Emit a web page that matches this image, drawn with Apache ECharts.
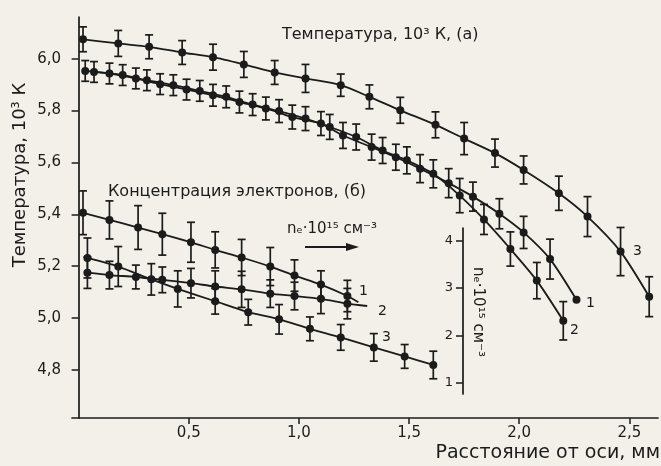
<!DOCTYPE html>
<html>
<head>
<meta charset="utf-8">
<script src="https://cdn.jsdelivr.net/npm/echarts@6/dist/echarts.min.js"></script>
<style>
  html, body { margin: 0; padding: 0; background: #f2f0e9; }
  #grafico { width: 661px; height: 466px; }
</style>
</head>
<body>
<div id="grafico"></div>
<script>
// Температура (а), 10^3 K
const tempX1 = [0.03, 0.14, 0.26, 0.37, 0.49, 0.61, 0.73, 0.85, 0.97, 1.10, 1.20, 1.33, 1.44, 1.55, 1.68, 1.79, 1.91, 2.02, 2.14, 2.26];
const tempY1 = [5.953, 5.943, 5.924, 5.902, 5.881, 5.859, 5.833, 5.808, 5.775, 5.750, 5.704, 5.659, 5.620, 5.576, 5.520, 5.468, 5.402, 5.330, 5.227, 5.070];
const tempErr1 = [0.04, 0.04, 0.04, 0.04, 0.04, 0.042, 0.042, 0.044, 0.046, 0.046, 0.05, 0.05, 0.05, 0.054, 0.056, 0.056, 0.058, 0.062, 0.077, 0];

const tempX2 = [0.07, 0.20, 0.31, 0.43, 0.55, 0.67, 0.79, 0.91, 1.03, 1.14, 1.26, 1.38, 1.49, 1.61, 1.73, 1.84, 1.96, 2.08, 2.20];
const tempY2 = [5.949, 5.937, 5.917, 5.898, 5.876, 5.853, 5.823, 5.798, 5.769, 5.737, 5.698, 5.646, 5.608, 5.556, 5.472, 5.380, 5.266, 5.144, 4.989];
const tempErr2 = [0.04, 0.04, 0.04, 0.04, 0.04, 0.042, 0.042, 0.044, 0.046, 0.048, 0.05, 0.05, 0.052, 0.054, 0.066, 0.058, 0.066, 0.07, 0.074];

const tempX3 = [0.02, 0.18, 0.32, 0.47, 0.61, 0.75, 0.89, 1.03, 1.19, 1.32, 1.46, 1.62, 1.75, 1.89, 2.02, 2.18, 2.31, 2.46, 2.59];
const tempY3 = [6.075, 6.059, 6.046, 6.024, 6.006, 5.978, 5.947, 5.924, 5.898, 5.853, 5.801, 5.745, 5.692, 5.636, 5.571, 5.481, 5.391, 5.256, 5.082];
const tempErr3 = [0.048, 0.05, 0.046, 0.046, 0.05, 0.05, 0.046, 0.054, 0.043, 0.046, 0.05, 0.05, 0.062, 0.054, 0.054, 0.066, 0.077, 0.093, 0.077];

// Концентрация электронов (б), 10^15 см^-3
const neX1 = [0.02, 0.14, 0.27, 0.38, 0.51, 0.62, 0.74, 0.87, 0.98, 1.10, 1.22];
const neY1 = [4.58, 4.43, 4.27, 4.13, 3.96, 3.80, 3.64, 3.45, 3.26, 3.07, 2.83];
const neErr1 = [0.46, 0.40, 0.46, 0.44, 0.42, 0.38, 0.38, 0.40, 0.33, 0.29, 0.33];
const neTail1 = [1.27, 2.70];

const neX2 = [0.04, 0.14, 0.26, 0.38, 0.51, 0.62, 0.74, 0.87, 0.98, 1.10, 1.22];
const neY2 = [3.32, 3.27, 3.23, 3.17, 3.10, 3.03, 2.97, 2.88, 2.83, 2.77, 2.67];
const neErr2 = [0.33, 0.29, 0.25, 0.27, 0.31, 0.33, 0.38, 0.29, 0.29, 0.31, 0.32];
const neTail2 = [1.31, 2.62];

const neX3 = [0.04, 0.18, 0.33, 0.45, 0.62, 0.77, 0.91, 1.05, 1.19, 1.34, 1.48, 1.61];
const neY3 = [3.63, 3.45, 3.18, 2.98, 2.72, 2.49, 2.34, 2.14, 1.96, 1.75, 1.56, 1.38];
const neErr3 = [0.42, 0.42, 0.33, 0.38, 0.27, 0.27, 0.31, 0.25, 0.27, 0.29, 0.25, 0.29];

// Подписи осей
const xTicks = [0.5, 1.0, 1.5, 2.0, 2.5];
const tempTicks = [4.8, 5.0, 5.2, 5.4, 5.6, 5.8, 6.0];
const neTicks = [1, 2, 3, 4];

const ink = "#1b1b1b";
const fonte = "DejaVu Sans";
const grafico = echarts.init(document.getElementById("grafico"));

const virgula = (v) => v.toFixed(1).replace(".", ",");

function serieLinha(xs, ys, tail, eixo) {
  const data = xs.map((x, i) => [x, ys[i]]);
  if (tail) data.push({ value: tail, symbol: "none" });
  return {
    type: "line",
    xAxisIndex: eixo,
    yAxisIndex: eixo,
    data,
    smooth: 0.25,
    symbol: "circle",
    symbolSize: 8,
    clip: false,
    z: 3,
    itemStyle: { color: ink },
    lineStyle: { color: ink, width: 1.8 },
  };
}

// barras de erro
function serieErro(xs, ys, errs, eixo) {
  return {
    type: "custom",
    xAxisIndex: eixo,
    yAxisIndex: eixo,
    clip: false,
    silent: true,
    z: 2,
    data: xs.map((x, i) => [x, ys[i], errs[i]]),
    encode: { x: 0, y: 1 },
    renderItem: (params, api) => {
      const e = api.value(2);
      if (!e) return null;
      const x = api.value(0), y = api.value(1);
      const a = api.coord([x, y + e]);
      const b = api.coord([x, y - e]);
      const w = 4;
      const st = { stroke: ink, lineWidth: 1.7 };
      return {
        type: "group",
        children: [
          { type: "line", shape: { x1: a[0], y1: a[1], x2: b[0], y2: b[1] }, style: st },
          { type: "line", shape: { x1: a[0] - w, y1: a[1], x2: a[0] + w, y2: a[1] }, style: st },
          { type: "line", shape: { x1: b[0] - w, y1: b[1], x2: b[0] + w, y2: b[1] }, style: st },
        ],
      };
    },
  };
}

const linhaEixo = { show: true, lineStyle: { color: ink, width: 1.7 } };
const txt = (size) => ({ fontFamily: fonte, fontSize: size, color: ink });

function rotulo(x, y, text, size, extra) {
  return Object.assign(
    { type: "text", x, y, style: { text, font: size + "px " + fonte, fill: ink, verticalAlign: "middle" } },
    extra || {}
  );
}

grafico.setOption({
  animation: false,
  backgroundColor: "#f2f0e9",
  grid: [
    { left: 72, right: 3, top: 17, bottom: 48 },
    { left: 72, right: 3, top: 228, bottom: 72 },
  ],
  xAxis: [
    {
      type: "value", gridIndex: 0, min: -0.03, max: 2.63,
      axisLine: linhaEixo,
      axisTick: { show: true, length: 6, customValues: xTicks, lineStyle: { color: ink, width: 1.5 } },
      axisLabel: Object.assign({ customValues: xTicks, formatter: virgula, margin: 8 }, txt(15)),
      splitLine: { show: false },
    },
    { type: "value", gridIndex: 1, min: -0.03, max: 2.63, show: false },
  ],
  yAxis: [
    {
      type: "value", gridIndex: 0, min: 4.614, max: 6.161,
      axisLine: linhaEixo,
      axisTick: { show: true, length: 7, customValues: tempTicks, lineStyle: { color: ink, width: 1.5 } },
      axisLabel: Object.assign({ customValues: tempTicks, formatter: virgula, margin: 11 }, txt(15)),
      splitLine: { show: false },
    },
    {
      type: "value", gridIndex: 1, min: 0.77, max: 4.26, position: "left", offset: -391,
      axisLine: linhaEixo,
      axisTick: { show: true, length: 7, customValues: neTicks, lineStyle: { color: ink, width: 1.5 } },
      axisLabel: Object.assign({ customValues: neTicks, margin: 10 }, txt(13)),
      splitLine: { show: false },
    },
  ],
  series: [
    serieErro(tempX1, tempY1, tempErr1, 0),
    serieErro(tempX2, tempY2, tempErr2, 0),
    serieErro(tempX3, tempY3, tempErr3, 0),
    serieLinha(tempX1, tempY1, null, 0),
    serieLinha(tempX2, tempY2, null, 0),
    serieLinha(tempX3, tempY3, null, 0),
    serieErro(neX1, neY1, neErr1, 1),
    serieErro(neX2, neY2, neErr2, 1),
    serieErro(neX3, neY3, neErr3, 1),
    serieLinha(neX1, neY1, neTail1, 1),
    serieLinha(neX2, neY2, neTail2, 1),
    serieLinha(neX3, neY3, null, 1),
  ],
  graphic: [
    rotulo(282, 35, "Температура, 10³ К, (а)", 16),
    rotulo(108, 192, "Концентрация электронов, (б)", 16),
    rotulo(287, 229, "nₑ·10¹⁵ см⁻³", 15),
    { type: "line", shape: { x1: 305, y1: 247, x2: 350, y2: 247 }, style: { stroke: ink, lineWidth: 2 } },
    { type: "polygon", shape: { points: [[346, 243], [359, 247], [346, 251]] }, style: { fill: ink } },
    rotulo(478, 312, "", 15, { rotation: -Math.PI / 2, style: { text: "nₑ·10¹⁵ см⁻³", font: "15px " + fonte, fill: ink, align: "center", verticalAlign: "middle" } }),
    rotulo(20, 175, "", 18, { rotation: Math.PI / 2, style: { text: "Температура, 10³ К", font: "18px " + fonte, fill: ink, align: "center", verticalAlign: "middle" } }),
    rotulo(660, 453, "", 19, { style: { text: "Расстояние от оси, мм", font: "19px " + fonte, fill: ink, align: "right", verticalAlign: "middle" } }),
    // números das curvas
    rotulo(633, 251, "3", 14),
    rotulo(586, 303, "1", 14),
    rotulo(570, 330, "2", 14),
    rotulo(359, 291, "1", 14),
    rotulo(378, 311, "2", 14),
    rotulo(382, 337, "3", 14),
  ],
});
</script>
</body>
</html>
